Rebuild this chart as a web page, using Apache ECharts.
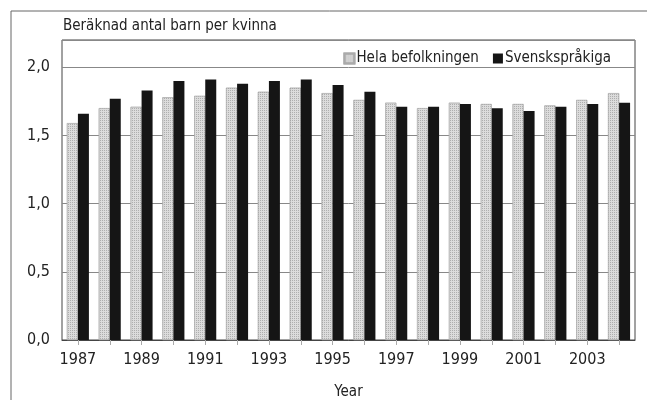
<!DOCTYPE html>
<html>
<head>
<meta charset="utf-8">
<script src="https://cdn.jsdelivr.net/npm/echarts@6/dist/echarts.min.js"></script>
<style>
  html, body { margin: 0; padding: 0; background: #fff; }
  #main { width: 647px; height: 400px; }
</style>
</head>
<body>
<div id="main"></div>
<script>
// years and fertility values
var years = ['1987', '1988', '1989', '1990', '1991', '1992', '1993', '1994', '1995',
             '1996', '1997', '1998', '1999', '2000', '2001', '2002', '2003', '2004'];
var hela = [1.59, 1.70, 1.71, 1.78, 1.79, 1.85, 1.82, 1.85, 1.81,
            1.76, 1.74, 1.70, 1.74, 1.73, 1.73, 1.72, 1.76, 1.81];
var svensk = [1.66, 1.77, 1.83, 1.90, 1.91, 1.88, 1.90, 1.91, 1.87,
              1.82, 1.71, 1.71, 1.73, 1.70, 1.68, 1.71, 1.73, 1.74];
var yTicks = [0, 0.5, 1.0, 1.5, 2.0];

var font = "'Liberation Sans Narrow', 'DejaVu Sans Condensed', sans-serif";
var chart = echarts.init(document.getElementById('main'));

// fine dotted fill for the grey bars
var dots = {
    symbol: 'rect',
    symbolSize: 1,
    color: 'rgba(90,90,90,0.35)',
    dashArrayX: [1, 1],
    dashArrayY: [1, 1],
    rotation: 0
};

var option = {
    backgroundColor: '#fff',
    animation: false,
    aria: {enabled: true, decal: {show: true}},
    textStyle: {fontFamily: font, color: '#222'},
    title: {
        text: 'Beräknad antal barn per kvinna',
        left: 63,
        top: 19,
        padding: 0,
        textStyle: {fontFamily: font, fontSize: 15, fontWeight: 'normal', color: '#222'}
    },
    legend: {
        right: 36,
        top: 51,
        icon: 'rect',
        itemWidth: 10,
        itemHeight: 10,
        itemGap: 14,
        padding: 0,
        textStyle: {fontFamily: font, fontSize: 15, color: '#222', padding: [0, 0, 0, -3]},
        data: ['Hela befolkningen', 'Svenskspråkiga']
    },
    graphic: [{
        type: 'rect',
        shape: {x: 11, y: 11, width: 700, height: 500},
        style: {fill: 'none', stroke: '#666', lineWidth: 1},
        silent: true
    }],
    grid: {
        left: 62,
        right: 12,
        top: 40,
        bottom: 60,
        outerBoundsMode: 'none',
        containLabel: false,
        show: true,
        borderColor: '#444',
        borderWidth: 1
    },
    xAxis: {
        type: 'category',
        data: years,
        name: 'Year',
        nameLocation: 'middle',
        nameGap: 45,
        nameTextStyle: {fontFamily: font, fontSize: 15, color: '#222'},
        axisLine: {lineStyle: {color: '#444'}},
        axisTick: {show: true, interval: 0, alignWithLabel: true, length: 5, lineStyle: {color: '#aaa'}},
        axisLabel: {interval: 1, margin: 12, fontFamily: font, fontSize: 16, color: '#222'}
    },
    yAxis: {
        type: 'value',
        min: 0,
        max: 2.2,
        interval: 0.5,
        axisLine: {show: false},
        axisTick: {show: false},
        axisLabel: {
            margin: 12,
            fontFamily: font,
            fontSize: 16,
            color: '#222',
            formatter: function (v) {
                for (var i = 0; i < yTicks.length; i++) {
                    if (Math.abs(v - yTicks[i]) < 1e-6) {
                        return yTicks[i].toFixed(1).replace('.', ',');
                    }
                }
                return '';
            }
        },
        splitLine: {lineStyle: {color: '#888', width: 1}}
    },
    series: [
        {
            name: 'Hela befolkningen',
            type: 'bar',
            data: hela,
            barWidth: 11,
            barGap: '0%',
            itemStyle: {color: '#dcdcdc', borderColor: '#aaa', borderWidth: 0.5, decal: dots}
        },
        {
            name: 'Svenskspråkiga',
            type: 'bar',
            data: svensk,
            barWidth: 11,
            itemStyle: {color: '#151515', decal: {symbol: 'none'}}
        }
    ]
};

chart.setOption(option);
</script>
</body>
</html>
